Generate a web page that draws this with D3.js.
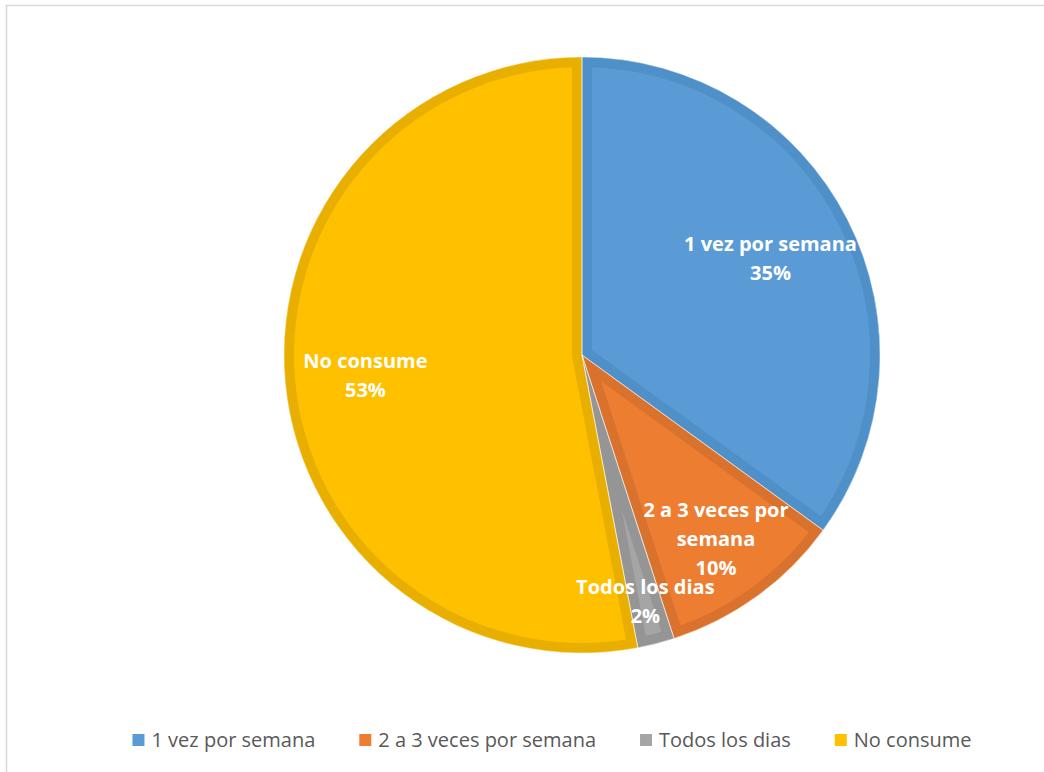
<!DOCTYPE html>
<html><head><meta charset="utf-8">
<script src="https://cdn.jsdelivr.net/npm/d3@7"></script>
<style>body{margin:0;background:#fff}svg{display:block}</style>
</head><body>
<svg id="c" width="1044" height="772"></svg>
<script>
const categories = ["1 vez por semana", "2 a 3 veces por semana", "Todos los dias", "No consume"];
const values = [35, 10, 2, 53];
const labelLines = [["1 vez por semana"], ["2 a 3 veces por", "semana"], ["Todos los dias"], ["No consume"]];
const percentLabels = ["35%", "10%", "2%", "53%"];
const colors = ["#5B9BD5", "#ED7D31", "#A5A5A5", "#FFC000"];
const borderColors = ["#5090C8", "#D9722D", "#959595", "#E8AE00"];

const svg = d3.select("#c");
const W = 1044, H = 772;
svg.append("rect").attr("x", 6.5).attr("y", 5.5).attr("width", W + 10).attr("height", H + 10)
  .attr("fill", "#fff").attr("stroke", "#d9d9d9").attr("stroke-width", 1.5);

const cx = 582, cy = 355, R = 298;
const labelRFrac = [0.71, 0.765, 0.855, 0.73];
const pie = d3.pie().sort(null).value(d => d)(values);
const arc = d3.arc().innerRadius(0).outerRadius(R);
const g = svg.append("g").attr("transform", `translate(${cx},${cy})`);
const defs = svg.append("defs");

pie.forEach((p, i) => {
  const d = arc(p);
  defs.append("clipPath").attr("id", "cl" + i).append("path").attr("d", d);
  g.append("path").attr("d", d).attr("fill", colors[i]);
  g.append("path").attr("d", d).attr("fill", "none").attr("stroke", borderColors[i])
    .attr("stroke-width", 20).attr("stroke-linejoin", "miter").attr("clip-path", `url(#cl${i})`);
});
pie.forEach((p, i) => {
  g.append("path").attr("d", arc(p)).attr("fill", "none").attr("stroke", "#fff").attr("stroke-width", 0.8).attr("stroke-opacity", 0.6);
});

pie.forEach((p, i) => {
  const a = (p.startAngle + p.endAngle) / 2;
  const r = R * labelRFrac[i];
  const x = r * Math.sin(a), y = -r * Math.cos(a);
  const lines = labelLines[i].concat([percentLabels[i]]);
  const lh = 29;
  const t = g.append("text").attr("text-anchor", "middle")
    .attr("font-family", "'Open Sans', sans-serif").attr("font-weight", "bold")
    .attr("font-size", 20).attr("fill", "#fff");
  lines.forEach((ln, k) => {
    t.append("tspan").attr("x", x).attr("y", y + (k - (lines.length - 1) / 2) * lh + 7).text(ln);
  });
});

// legend
const leg = svg.append("g");
let xPos = 0;
const gap = 44;
categories.forEach((c, i) => {
  const it = leg.append("g");
  it.append("rect").attr("x", 0).attr("y", -6).attr("width", 12).attr("height", 12).attr("fill", colors[i]);
  const tx = it.append("text").attr("x", 19).attr("y", 0).attr("dy", "0.35em")
    .attr("font-family", "'Open Sans', sans-serif").attr("font-size", 20).attr("fill", "#595959").text(c);
  const w = 19 + tx.node().getComputedTextLength();
  it.attr("transform", `translate(${xPos},0)`);
  xPos += w + gap;
});
const total = xPos - gap;
leg.attr("transform", `translate(${552 - total / 2},740)`);
</script>
</body></html>
